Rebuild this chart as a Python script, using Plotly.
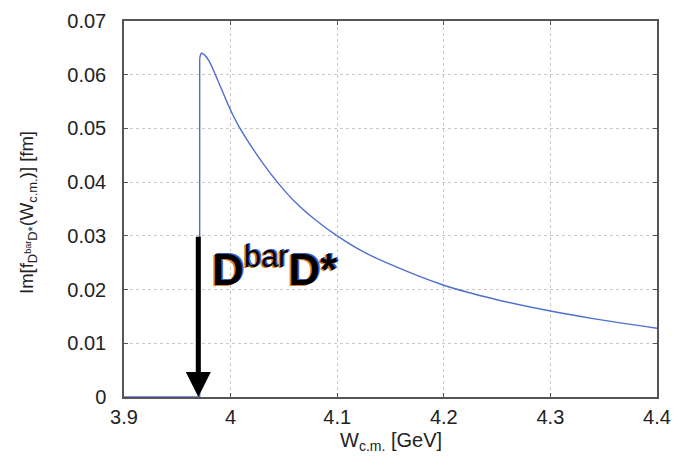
import plotly.graph_objects as go

# Data
w_threshold = [3.900, 3.971, 3.971]
im_threshold = [0.0, 0.0, 0.0630]

w_decay = [3.971, 3.9727, 3.976, 3.980, 3.987, 4.000, 4.008, 4.030, 4.046, 4.061,
           4.080, 4.100, 4.123, 4.145, 4.200, 4.248, 4.300, 4.340, 4.400]
im_decay = [0.0630, 0.0640, 0.0636, 0.0625, 0.0594, 0.0534, 0.0503, 0.0436, 0.0395, 0.0362,
            0.0329, 0.0300, 0.0272, 0.0251, 0.0208, 0.0182, 0.0160, 0.0146, 0.0128]

x_ticks = [3.9, 4.0, 4.1, 4.2, 4.3, 4.4]
x_tick_labels = ["3.9", "4", "4.1", "4.2", "4.3", "4.4"]
y_ticks = [0, 0.01, 0.02, 0.03, 0.04, 0.05, 0.06, 0.07]
y_tick_labels = ["0", "0.01", "0.02", "0.03", "0.04", "0.05", "0.06", "0.07"]

x_title = "W<sub>c.m.</sub> [GeV]"
y_title = "Im[f<sub>D<sup>bar</sup>D*</sub>(W<sub>c.m.</sub>)] [fm]"
label_text = "<b>D</b><sup>bar</sup><b>D*</b>"

arrow_x = 3.9697
arrow_top = 0.0301
label_x = 4.0415
label_y = 0.0243

line_color = "#4e6fcf"
font_family = "Liberation Sans, Arial, sans-serif"
text_color = "#222222"

fig = go.Figure()
fig.add_trace(go.Scatter(x=w_threshold, y=im_threshold, mode="lines",
                         line=dict(color=line_color, width=1.4), showlegend=False))
fig.add_trace(go.Scatter(x=w_decay, y=im_decay, mode="lines",
                         line=dict(color=line_color, width=1.4, shape="spline", smoothing=1.0),
                         showlegend=False))

# Threshold arrow
fig.add_annotation(x=arrow_x, y=0, ax=arrow_x, ay=arrow_top, xref="x", yref="y",
                   axref="x", ayref="y", text="", showarrow=True,
                   arrowhead=2, arrowsize=1, arrowwidth=5, arrowcolor="black", standoff=0)

# Label with coloured fringe (text shadow)
fig.add_annotation(x=label_x, y=label_y, xref="x", yref="y",
                   text=label_text, showarrow=False,
                   font=dict(family=font_family, size=44, color="black",
                             shadow="-1.5px 1px 0px #d9822b, 1.5px -1px 0px #3a5bd0"))

# Axis titles
fig.add_annotation(x=0.5, y=0, xref="paper", yref="paper", xanchor="center", yanchor="middle",
                   yshift=-44, text=x_title, showarrow=False,
                   font=dict(family=font_family, size=20, color=text_color))
fig.add_annotation(x=0, y=0.5, xref="paper", yref="paper", xanchor="center", yanchor="middle",
                   xshift=-96, yshift=-4, textangle=-90, text=y_title, showarrow=False,
                   font=dict(family=font_family, size=18.5, color=text_color))

axis_common = dict(showline=True, linecolor="#555555", linewidth=1.5, mirror="ticks",
                   ticks="inside", ticklen=4, tickcolor="#555555", tickwidth=1,
                   showgrid=True, gridcolor="#c8c8c8", griddash="dot", gridwidth=1,
                   zeroline=False, automargin=False,
                   tickfont=dict(family=font_family, size=20, color=text_color))

fig.update_xaxes(range=[3.9, 4.4], tickvals=x_ticks, ticktext=x_tick_labels,
                 ticklabelstandoff=1, **axis_common)
fig.update_yaxes(range=[0, 0.07], tickvals=y_ticks, ticktext=y_tick_labels,
                 ticklabelstandoff=12, **axis_common)

fig.update_layout(width=677, height=462, margin=dict(l=124, r=20, t=21, b=65),
                  paper_bgcolor="white", plot_bgcolor="white")

fig.write_html("out.html", config={"displayModeBar": False},
               post_script="document.body.style.margin='0';document.body.style.overflow='hidden';")
